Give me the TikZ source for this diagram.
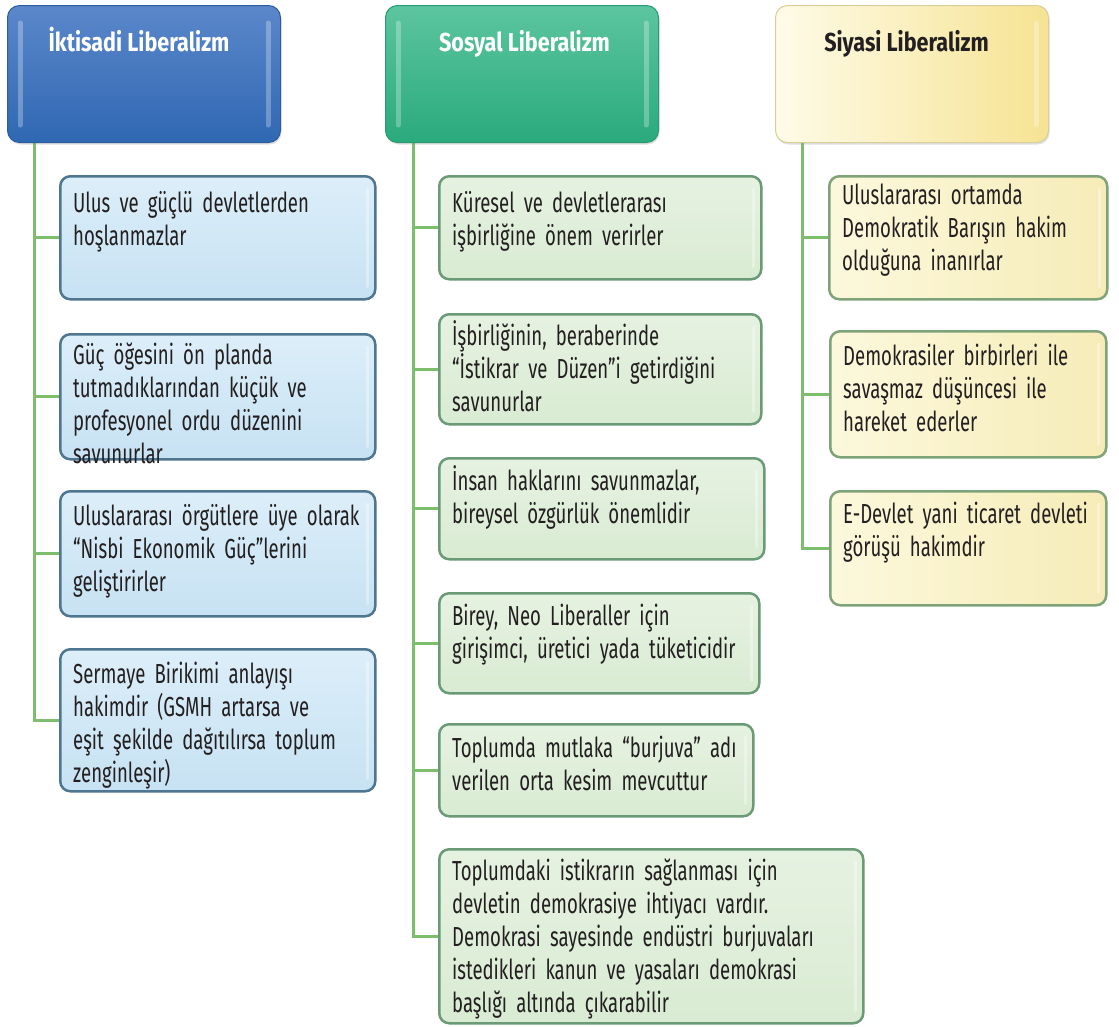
\documentclass[tikz,border=0pt]{standalone}
\usepackage{fontspec}
\setmainfont{Fira Sans}[FakeStretch=0.675]
\newfontfamily\hfont{Fira Sans}[FakeStretch=0.83]
\newcommand\bodyfnt{\fontsize{27.5}{33}\selectfont}
\usetikzlibrary{backgrounds,calc,shadows}
\definecolor{connc}{HTML}{7DBE6C}
\definecolor{txtc}{HTML}{231F20}
\definecolor{hbT}{HTML}{5B87CA}\definecolor{hbB}{HTML}{2F68B2}\definecolor{hbD}{HTML}{2C5E9E}
\definecolor{hgT}{HTML}{5CC59F}\definecolor{hgB}{HTML}{2AAA7D}\definecolor{hgD}{HTML}{2A9A72}
\definecolor{hyL}{HTML}{FEFBE8}\definecolor{hyR}{HTML}{F6E393}\definecolor{hyD}{HTML}{D9CD9A}
\definecolor{bbT}{HTML}{DCEEF9}\definecolor{bbB}{HTML}{C7E2F3}\definecolor{bbD}{HTML}{4E7690}
\definecolor{bgT}{HTML}{E6F2E1}\definecolor{bgB}{HTML}{D9EBD3}\definecolor{bgD}{HTML}{6A9A76}
\definecolor{byL}{HTML}{FCF8DC}\definecolor{byR}{HTML}{F6ECB8}\definecolor{byD}{HTML}{7FA379}
\begin{document}
\begin{tikzpicture}[x=1pt,y=-1pt,
  hdr/.style={rounded corners=12pt, minimum width=273pt, minimum height=137pt,
    anchor=north west, inner sep=0pt, line width=1pt,
    drop shadow={shadow xshift=1pt, shadow yshift=-2pt, opacity=0.25}},
  hdrB/.style={hdr, draw=hbD, top color=hbT, bottom color=hbB},
  hdrG/.style={hdr, draw=hgD, top color=hgT, bottom color=hgB},
  hdrY/.style={hdr, draw=hyD, left color=hyL, right color=hyR},
  gloss/.style={white, opacity=0.28, line width=5pt, line cap=round},
  sgloss/.style={white, opacity=0.35, line width=3pt, line cap=round},
  htxt/.style={anchor=base, inner sep=0pt, font=\hfont\fontsize{26}{30}\selectfont\bfseries},
  cbox/.style={rounded corners=10pt, anchor=north west, inner sep=0pt, line width=2.5pt},
  boxB/.style={cbox, draw=bbD, top color=bbT, bottom color=bbB},
  boxG/.style={cbox, draw=bgD, top color=bgT, bottom color=bgB},
  boxY/.style={cbox, draw=byD, left color=byL, right color=byR},
  txt/.style={anchor=base west, text width=430pt, align=left, inner sep=0pt,
    text=txtc, font=\bodyfnt},
  conn/.style={draw=connc, line width=3pt}]
\useasboundingbox (0,0) rectangle (1119,1026);

% headers
\node[hdrB] (H1) at (7,5) {};
\node[hdrG] (H2) at (385,5) {};
\node[hdrY] (H3) at (775,5) {};
\foreach \h in {H1,H2,H3}{
  \draw[gloss] ([shift={(13,18)}]\h.north west) -- ([shift={(13,-18)}]\h.south west);
  \draw[gloss] ([shift={(-13,18)}]\h.north east) -- ([shift={(-13,-18)}]\h.south east);
}
\node[htxt, text=white] (T1) at ([shift={(-5,46)}]H1.north) {İktisadi Liberalizm};
\node[htxt, text=white] (T2) at ([shift={(2.5,46)}]H2.north) {Sosyal Liberalizm};
\node[htxt, text=txtc] (T3) at ([shift={(-5.5,46)}]H3.north) {Siyasi Liberalizm};

% left column
\node[boxB, minimum width=315pt, minimum height=123pt] (L1) at (59,175) {};
\node[boxB, minimum width=315pt, minimum height=125pt] (L2) at (59,333) {};
\node[boxB, minimum width=315pt, minimum height=125pt] (L3) at (59,490) {};
\node[boxB, minimum width=315pt, minimum height=142pt] (L4) at (59,648) {};
\node[txt] (L1t) at ([shift={(14,37)}]L1.north west) {Ulus ve güçlü devletlerden\\hoşlanmazlar};
\node[txt] (L2t) at ([shift={(14,31)}]L2.north west) {Güç öğesini ön planda\\tutmadıklarından küçük ve\\profesyonel ordu düzenini\\savunurlar};
\node[txt] (L3t) at ([shift={(14,35)}]L3.north west) {Uluslararası örgütlere üye olarak\\“Nisbi Ekonomik Güç”lerini\\geliştirirler};
\node[txt] (L4t) at ([shift={(14,35)}]L4.north west) {Sermaye Birikimi anlayışı\\hakimdir (GSMH artarsa ve\\eşit şekilde dağıtılırsa toplum\\zenginleşir)};

% middle column
\node[boxG, minimum width=322pt, minimum height=103pt] (M1) at (438,175) {};
\node[boxG, minimum width=322pt, minimum height=110pt] (M2) at (438,313) {};
\node[boxG, minimum width=325pt, minimum height=101pt] (M3) at (438,457) {};
\node[boxG, minimum width=320pt, minimum height=100pt] (M4) at (438,592) {};
\node[boxG, minimum width=314pt, minimum height=92pt] (M5) at (438,723) {};
\node[boxG, minimum width=424pt, minimum height=174pt] (M6) at (438,848) {};
\node[txt] (M1t) at ([shift={(14,37)}]M1.north west) {Küresel ve devletlerarası\\işbirliğine önem verirler};
\node[txt] (M2t) at ([shift={(14,32)}]M2.north west) {İşbirliğinin, beraberinde\\“İstikrar ve Düzen”i getirdiğini\\savunurlar};
\node[txt] (M3t) at ([shift={(14,33)}]M3.north west) {İnsan haklarını savunmazlar,\\bireysel özgürlük önemlidir};
\node[txt] (M4t) at ([shift={(14,33)}]M4.north west) {Birey, Neo Liberaller için\\girişimci, üretici yada tüketicidir};
\node[txt] (M5t) at ([shift={(14,34)}]M5.north west) {Toplumda mutlaka “burjuva” adı\\verilen orta kesim mevcuttur};
\node[txt] (M6t) at ([shift={(14,32)}]M6.north west) {Toplumdaki istikrarın sağlanması için\\devletin demokrasiye ihtiyacı vardır.\\Demokrasi sayesinde endüstri burjuvaları\\istedikleri kanun ve yasaları demokrasi\\başlığı altında çıkarabilir};

% right column
\node[boxY, minimum width=278pt, minimum height=123pt] (R1) at (828,175) {};
\node[boxY, minimum width=276pt, minimum height=126pt] (R2) at (829,330) {};
\node[boxY, minimum width=276pt, minimum height=114pt] (R3) at (829,490) {};
\node[txt] (R1t) at ([shift={(14,29)}]R1.north west) {Uluslararası ortamda\\Demokratik Barışın hakim\\olduğuna inanırlar};
\node[txt] (R2t) at ([shift={(14,35)}]R2.north west) {Demokrasiler birbirleri ile\\savaşmaz düşüncesi ile\\hareket ederler};
\node[txt] (R3t) at ([shift={(14,33)}]R3.north west) {E-Devlet yani ticaret devleti\\görüşü hakimdir};

% faint right-edge gloss on child boxes
\foreach \b in {L1,L2,L3,L4,M1,M2,M3,M4,M5,M6,R1,R2,R3}{
  \draw[sgloss] ([shift={(-9,14)}]\b.north east) -- ([shift={(-9,-14)}]\b.south east);
}

% connectors
\begin{pgfonlayer}{background}
\fill[white] (0,0) rectangle (1119,1026);
\coordinate (LA) at ([xshift=27]H1.south west);
\coordinate (MA) at ([xshift=28]H2.south west);
\coordinate (RA) at ([xshift=27]H3.south west);
\draw[conn] (LA) |- (L4.west);
\foreach \b in {L1,L2,L3}{\draw[conn] (LA |- \b.west) -- (\b.west);}
\draw[conn] (MA) |- (M6.west);
\foreach \b in {M1,M2,M3,M4,M5}{\draw[conn] (MA |- \b.west) -- (\b.west);}
\draw[conn] (RA) |- (R3.west);
\foreach \b in {R1,R2}{\draw[conn] (RA |- \b.west) -- (\b.west);}
\end{pgfonlayer}
\end{tikzpicture}
\end{document}
